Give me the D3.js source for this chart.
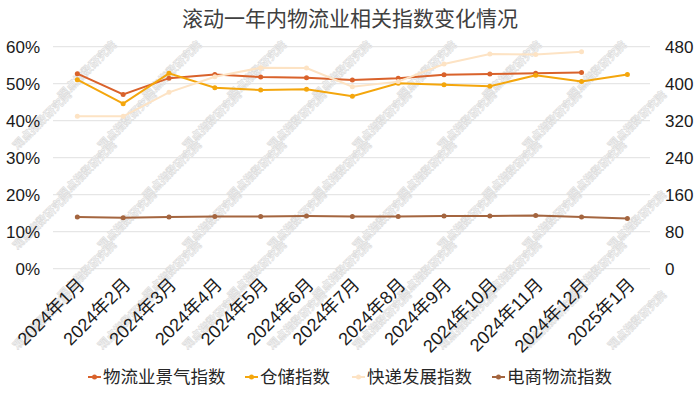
<!DOCTYPE html>
<html>
<head>
<meta charset="utf-8">
<script src="https://d3js.org/d3.v7.min.js"></script>
<style>
  body { margin: 0; background: #fff; }
  text { font-family: "Liberation Sans", Arial, "Noto Sans CJK SC", sans-serif; }
</style>
</head>
<body>
<svg id="vis"></svg>
<script>
  var width = 700, height = 394

  // data
  var months = ['2024年1月', '2024年2月', '2024年3月', '2024年4月', '2024年5月', '2024年6月',
    '2024年7月', '2024年8月', '2024年9月', '2024年10月', '2024年11月', '2024年12月', '2025年1月']
  var logistics = [52.7, 47.1, 51.5, 52.5, 51.8, 51.6, 51.0, 51.5, 52.4, 52.6, 52.8, 53.0, null]
  var warehouse = [51.1, 44.6, 52.8, 48.9, 48.3, 48.5, 46.6, 50.1, 49.7, 49.3, 52.3, 50.6, 52.5]
  var express = [329.4, 329.5, 381.3, 415.1, 434.6, 433.9, 393.5, 404.5, 442.5, 464.1, 463.4, 469.2, null]
  var ecommerce = [111.6, 110.4, 111.6, 112.9, 113.0, 113.9, 113.0, 113.1, 113.7, 113.8, 114.9, 111.7, 108.3]
  var leftTicks = [0, 10, 20, 30, 40, 50, 60]
  var rightTicks = [0, 80, 160, 240, 320, 400, 480]

  var series = [
    { name: '物流业景气指数', values: logistics, axis: 'left', color: '#d9622b' },
    { name: '仓储指数', values: warehouse, axis: 'left', color: '#f4a60c' },
    { name: '快递发展指数', values: express, axis: 'right', color: '#fde3c4' },
    { name: '电商物流指数', values: ecommerce, axis: 'right', color: '#a4653f' }
  ]

  var svg = d3.select('#vis')
    .attr('width', width)
    .attr('height', height)

  var x = d3.scalePoint()
    .domain(months)
    .range([54.4, 650.3])
    .padding(0.5)
  var yLeft = d3.scaleLinear().domain([0, 60]).range([268.7, 46.7])
  var yRight = d3.scaleLinear().domain([0, 480]).range([268.7, 46.7])

  // title
  svg.append('text')
    .attr('x', 350)
    .attr('y', 26)
    .attr('text-anchor', 'middle')
    .style('font-size', '21px')
    .style('fill', '#404040')
    .text('滚动一年内物流业相关指数变化情况')

  // gridlines
  svg.append('g')
    .selectAll('line')
    .data(leftTicks)
    .enter().append('line')
    .attr('x1', 53)
    .attr('x2', 650)
    .attr('y1', function (d) { return yLeft(d) })
    .attr('y2', function (d) { return yLeft(d) })
    .style('stroke', '#e0e0e0')
    .style('stroke-width', 1)

  // watermark
  var wm = svg.append('g').style('pointer-events', 'none')
  for (var r = 0; r < 6; r++) {
    for (var c = 0; c < 9; c++) {
      var wx = c * 85 + (r % 2) * 40 + 2
      var wy = 70 + r * 50
      if (wx < 28 || wx > 672) continue
      wm.append('text')
        .attr('transform', 'translate(' + wx + ',' + wy + ') rotate(-45)')
        .attr('text-anchor', 'middle')
        .attr('dy', 4)
        .style('font-size', '11px')
        .style('font-weight', 'bold')
        .style('fill', '#fafafa')
        .style('stroke', '#dcdcdc')
        .style('stroke-width', 0.6)
        .text('观点指数研究院')
    }
  }

  // axes
  svg.append('g')
    .attr('transform', 'translate(53,0)')
    .call(d3.axisLeft(yLeft).tickValues(leftTicks).tickSize(0).tickPadding(13)
      .tickFormat(function (d) { return d + '%' }))
  svg.append('g')
    .attr('transform', 'translate(650,0)')
    .call(d3.axisRight(yRight).tickValues(rightTicks).tickSize(0).tickPadding(15))
  var axisBottom = svg.append('g')
    .attr('transform', 'translate(0,268.7)')
    .call(d3.axisBottom(x).tickSize(0).tickPadding(0))

  svg.selectAll('.domain').remove()
  svg.selectAll('.tick text')
    .style('font-size', '17px')
    .style('fill', '#1a1a1a')
    .style('font-family', '"Liberation Sans", Arial, "Noto Sans CJK SC", sans-serif')
  axisBottom.selectAll('text')
    .attr('text-anchor', 'end')
    .attr('dy', 0)
    .style('font-size', '18px')
    .attr('transform', 'translate(8,17) rotate(-45)')

  // lines
  series.forEach(function (s) {
    var y = s.axis == 'left' ? yLeft : yRight
    var pts = months.map(function (m, i) { return { m: m, v: s.values[i] } })
      .filter(function (d) { return d.v != null })
    var line = d3.line()
      .x(function (d) { return x(d.m) })
      .y(function (d) { return y(d.v) })
    var g = svg.append('g')
    g.append('path')
      .datum(pts)
      .attr('d', line)
      .style('fill', 'none')
      .style('stroke', s.color)
      .style('stroke-width', 2)
    g.selectAll('circle')
      .data(pts)
      .enter().append('circle')
      .attr('cx', function (d) { return x(d.m) })
      .attr('cy', function (d) { return y(d.v) })
      .attr('r', 2.5)
      .style('fill', s.color)
  })

  // legend
  var legendX = [88, 245, 352, 492]
  var legend = svg.append('g')
  series.forEach(function (s, i) {
    var lg = legend.append('g').attr('transform', 'translate(' + legendX[i] + ',377)')
    lg.append('line')
      .attr('x1', 0).attr('x2', 13)
      .attr('y1', 0).attr('y2', 0)
      .style('stroke', s.color)
      .style('stroke-width', 2)
    lg.append('circle')
      .attr('cx', 6.5).attr('cy', 0).attr('r', 2.5)
      .style('fill', s.color)
    lg.append('text')
      .attr('x', 15)
      .attr('y', 6)
      .style('font-size', '17.5px')
      .style('fill', '#262626')
      .text(s.name)
  })
</script>
</body>
</html>
